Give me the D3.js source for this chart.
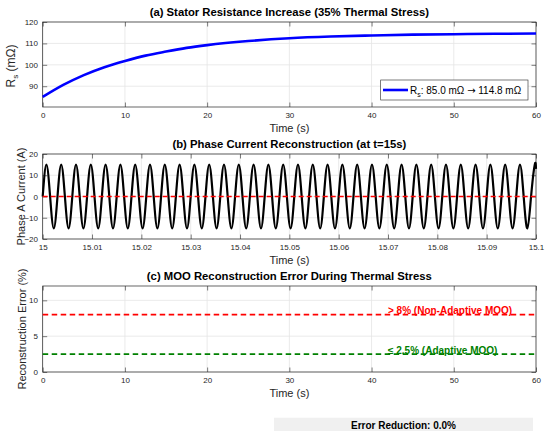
<!DOCTYPE html>
<html>
<head>
<meta charset="utf-8">
<script src="https://cdn.jsdelivr.net/npm/d3@7"></script>
<style>
  body { margin: 0; background: #fff; }
  svg { display: block; font-family: "Liberation Sans", Arial, sans-serif; }
</style>
</head>
<body>
<script>
// ---- data ----
// (a) stator resistance vs time
var rsTime  = [0, 2.5, 5, 7.5, 10, 12.5, 15, 17.5, 20, 25, 30, 35, 40, 45, 50, 55, 60];
var rsValue = [85.0, 90.6, 95.2, 98.9, 101.8, 104.3, 106.2, 107.9, 109.2, 111.1, 112.4, 113.2, 113.7, 114.1, 114.3, 114.5, 114.6];

// (b) phase A current, sampled every quarter cycle (ms after t = 15 s)
var iTimeMs = [
  0, 0.75, 1.5, 2.25, 3, 3.75, 4.5, 5.25, 6, 6.75, 7.5, 8.25, 9, 9.75, 10.5, 11.25,
  12, 12.75, 13.5, 14.25, 15, 15.75, 16.5, 17.25, 18, 18.75, 19.5, 20.25, 21, 21.75, 22.5, 23.25,
  24, 24.75, 25.5, 26.25, 27, 27.75, 28.5, 29.25, 30, 30.75, 31.5, 32.25, 33, 33.75, 34.5, 35.25,
  36, 36.75, 37.5, 38.25, 39, 39.75, 40.5, 41.25, 42, 42.75, 43.5, 44.25, 45, 45.75, 46.5, 47.25,
  48, 48.75, 49.5, 50.25, 51, 51.75, 52.5, 53.25, 54, 54.75, 55.5, 56.25, 57, 57.75, 58.5, 59.25,
  60, 60.75, 61.5, 62.25, 63, 63.75, 64.5, 65.25, 66, 66.75, 67.5, 68.25, 69, 69.75, 70.5, 71.25,
  72, 72.75, 73.5, 74.25, 75, 75.75, 76.5, 77.25, 78, 78.75, 79.5, 80.25, 81, 81.75, 82.5, 83.25,
  84, 84.75, 85.5, 86.25, 87, 87.75, 88.5, 89.25, 90, 90.75, 91.5, 92.25, 93, 93.75, 94.5, 95.25,
  96, 96.75, 97.5, 98.25, 99, 99.75, 100
];
var iValue = [
  0, 15, 0, -15, 0, 15, 0, -15, 0, 15, 0, -15, 0, 15, 0, -15,
  0, 15, 0, -15, 0, 15, 0, -15, 0, 15, 0, -15, 0, 15, 0, -15,
  0, 15, 0, -15, 0, 15, 0, -15, 0, 15, 0, -15, 0, 15, 0, -15,
  0, 15, 0, -15, 0, 15, 0, -15, 0, 15, 0, -15, 0, 15, 0, -15,
  0, 15, 0, -15, 0, 15, 0, -15, 0, 15, 0, -15, 0, 15, 0, -15,
  0, 15, 0, -15, 0, 15, 0, -15, 0, 15, 0, -15, 0, 15, 0, -15,
  0, 15, 0, -15, 0, 15, 0, -15, 0, 15, 0, -15, 0, 15, 0, -15,
  0, 15, 0, -15, 0, 15, 0, -15, 0, 15, 0, -15, 0, 15, 0, -15,
  0, 15, 0, -15, 0, 15, 13
];
var iRecTime  = [15, 15.1];
var iRecValue = [0, 0];

// (c) reconstruction error levels
var errTime        = [0, 60];
var errNonAdaptive = [8, 8];
var errAdaptive    = [2.5, 2.5];

// ticks
var tTicks  = [0, 10, 20, 30, 40, 50, 60];
var rsTicks = [90, 100, 110, 120];
var bTicks  = [15, 15.01, 15.02, 15.03, 15.04, 15.05, 15.06, 15.07, 15.08, 15.09, 15.1];
var iTicks  = [-20, -10, 0, 10, 20];
var eTicks  = [0, 5, 10];

// ---- drawing ----
var svgWidth = 550;
var svgHeight = 431;
var plotLeft = 42.7;
var plotRight = 536;
var axisColor = '#262626';

var svg = d3.select('body').append('svg')
  .attr('width', svgWidth)
  .attr('height', svgHeight);

var drawPanel = function(p) {
  var x = d3.scaleLinear().domain(p.xDomain).range([plotLeft, plotRight]);
  var y = d3.scaleLinear().domain(p.yDomain).range([p.bottom, p.top]);
  var g = svg.append('g');

  g.append('rect')
    .attr('x', plotLeft).attr('y', p.top)
    .attr('width', plotRight - plotLeft).attr('height', p.bottom - p.top)
    .attr('fill', '#fff');

  // grid
  g.selectAll().data(p.xTicks).enter().append('line')
    .attr('x1', function(d){ return x(d); }).attr('x2', function(d){ return x(d); })
    .attr('y1', p.top).attr('y2', p.bottom)
    .attr('stroke', '#e4e4e4').attr('stroke-width', 0.8);
  g.selectAll().data(p.yTicks).enter().append('line')
    .attr('y1', function(d){ return y(d); }).attr('y2', function(d){ return y(d); })
    .attr('x1', plotLeft).attr('x2', plotRight)
    .attr('stroke', '#e4e4e4').attr('stroke-width', 0.8);

  // axes with inward ticks on all four sides
  var bottom = g.append('g').attr('transform', 'translate(0,' + p.bottom + ')')
    .call(d3.axisBottom(x).tickValues(p.xTicks).tickSize(-4.5).tickPadding(5.3).tickFormat(p.xFormat));
  var top = g.append('g').attr('transform', 'translate(0,' + p.top + ')')
    .call(d3.axisTop(x).tickValues(p.xTicks).tickSize(-4.5).tickFormat(''));
  var left = g.append('g').attr('transform', 'translate(' + plotLeft + ',0)')
    .call(d3.axisLeft(y).tickValues(p.yTicks).tickSize(-4.5).tickPadding(4.7));
  var right = g.append('g').attr('transform', 'translate(' + plotRight + ',0)')
    .call(d3.axisRight(y).tickValues(p.yTicks).tickSize(-4.5).tickFormat(''));
  [bottom, top, left, right].forEach(function(a){
    a.select('.domain').remove();
    a.selectAll('line').attr('stroke', axisColor).attr('stroke-width', 0.6);
    a.selectAll('text').attr('fill', axisColor).style('font-size', '8px').style('font-family', 'Liberation Sans, Arial, sans-serif');
  });

  g.append('rect')
    .attr('x', plotLeft).attr('y', p.top)
    .attr('width', plotRight - plotLeft).attr('height', p.bottom - p.top)
    .attr('fill', 'none').attr('stroke', axisColor).attr('stroke-width', 0.7);

  // title and x label
  g.append('text').text(p.title)
    .attr('x', (plotLeft + plotRight) / 2).attr('y', p.top - 6)
    .attr('text-anchor', 'middle')
    .style('font-size', '11.3px').style('font-weight', 'bold').attr('fill', '#000');
  g.append('text').text('Time (s)')
    .attr('x', (plotLeft + plotRight) / 2).attr('y', p.bottom + 25)
    .attr('text-anchor', 'middle')
    .style('font-size', '11px').attr('fill', axisColor);

  return { x: x, y: y, g: g };
};

var lineOf = function(xs, ys, sx, sy, curve) {
  var pts = xs.map(function(d, i){ return [d, ys[i]]; });
  return d3.line()
    .x(function(d){ return sx(d[0]); })
    .y(function(d){ return sy(d[1]); })
    .curve(curve || d3.curveLinear)(pts);
};

// (a)
var a = drawPanel({
  xDomain: [0, 60], yDomain: [80.3, 120], top: 22, bottom: 107,
  xTicks: tTicks, yTicks: rsTicks, xFormat: d3.format('d'),
  title: '(a) Stator Resistance Increase (35% Thermal Stress)'
});
a.g.append('path')
  .attr('d', lineOf(rsTime, rsValue, a.x, a.y, d3.curveMonotoneX))
  .attr('fill', 'none').attr('stroke', '#0000ff').attr('stroke-width', 2.6);

var yla = svg.append('text')
  .attr('transform', 'translate(15,' + 66 + ') rotate(-90)')
  .attr('text-anchor', 'middle')
  .attr('fill', axisColor).style('font-size', '12px');
yla.append('tspan').text('R');
yla.append('tspan').text('s').attr('dy', 3).style('font-size', '8px');
yla.append('tspan').text(' (mΩ)').attr('dy', -3);

// legend
var leg = a.g.append('g');
leg.append('rect')
  .attr('x', 380.7).attr('y', 80).attr('width', 147.3).attr('height', 20)
  .attr('fill', '#fff').attr('stroke', axisColor).attr('stroke-width', 0.6);
leg.append('line')
  .attr('x1', 383).attr('x2', 408).attr('y1', 90).attr('y2', 90)
  .attr('stroke', '#0000ff').attr('stroke-width', 2.6);
var legText = leg.append('text').attr('x', 410).attr('y', 93.5)
  .attr('fill', '#000').style('font-size', '10px');
legText.append('tspan').text('R');
legText.append('tspan').text('s').attr('dy', 3).style('font-size', '7px');
legText.append('tspan').text(': 85.0 mΩ ').attr('dy', -3);
legText.append('tspan').text('→').style('font-family', 'DejaVu Sans');
legText.append('tspan').text(' 114.8 mΩ');

// (b)
var b = drawPanel({
  xDomain: [15, 15.1], yDomain: [-20, 20], top: 154, bottom: 239,
  xTicks: bTicks, yTicks: iTicks, xFormat: function(d){ return String(+d.toFixed(2)); },
  title: '(b) Phase Current Reconstruction (at t=15s)'
});
var iTime = iTimeMs.map(function(ms){ return 15 + ms / 1000; });
b.g.append('path')
  .attr('d', lineOf(iTime, iValue, b.x, b.y, d3.curveNatural))
  .attr('fill', 'none').attr('stroke', '#000').attr('stroke-width', 2.2);
b.g.append('path')
  .attr('d', lineOf(iRecTime, iRecValue, b.x, b.y))
  .attr('fill', 'none').attr('stroke', '#ff0000').attr('stroke-width', 1.6)
  .attr('stroke-dasharray', '5,3');
svg.append('text').text('Phase A Current (A)')
  .attr('transform', 'translate(24.5,196.5) rotate(-90)')
  .attr('text-anchor', 'middle')
  .attr('fill', axisColor).style('font-size', '11px');

// (c)
var c = drawPanel({
  xDomain: [0, 60], yDomain: [0, 12], top: 286, bottom: 372,
  xTicks: tTicks, yTicks: eTicks, xFormat: d3.format('d'),
  title: '(c) MOO Reconstruction Error During Thermal Stress'
});
c.g.append('path')
  .attr('d', lineOf(errTime, errNonAdaptive, c.x, c.y))
  .attr('fill', 'none').attr('stroke', '#ff0000').attr('stroke-width', 1.6)
  .attr('stroke-dasharray', '5.5,3.5');
c.g.append('path')
  .attr('d', lineOf(errTime, errAdaptive, c.x, c.y))
  .attr('fill', 'none').attr('stroke', '#008000').attr('stroke-width', 1.6)
  .attr('stroke-dasharray', '5.5,3.5');
c.g.append('text').text('> 8% (Non-Adaptive MOO)')
  .attr('x', c.x(42)).attr('y', c.y(errNonAdaptive[0]) - 0.8)
  .attr('fill', '#ff0000').style('font-size', '10px').style('font-weight', 'bold');
c.g.append('text').text('≤ 2.5% (Adaptive MOO)')
  .attr('x', c.x(42)).attr('y', c.y(errAdaptive[0]) - 0.5)
  .attr('fill', '#008000').style('font-size', '10px').style('font-weight', 'bold');
svg.append('text').text('Reconstruction Error (%)')
  .attr('transform', 'translate(26,329) rotate(-90)')
  .attr('text-anchor', 'middle')
  .attr('fill', axisColor).style('font-size', '11px');

// summary box
svg.append('rect')
  .attr('x', 274).attr('y', 417.7).attr('width', 259).attr('height', 20)
  .attr('fill', '#f0f0f0');
svg.append('text').text('Error Reduction: 0.0%')
  .attr('x', 403.5).attr('y', 429)
  .attr('text-anchor', 'middle')
  .attr('fill', '#000').style('font-size', '10px').style('font-weight', 'bold');
</script>
</body>
</html>
